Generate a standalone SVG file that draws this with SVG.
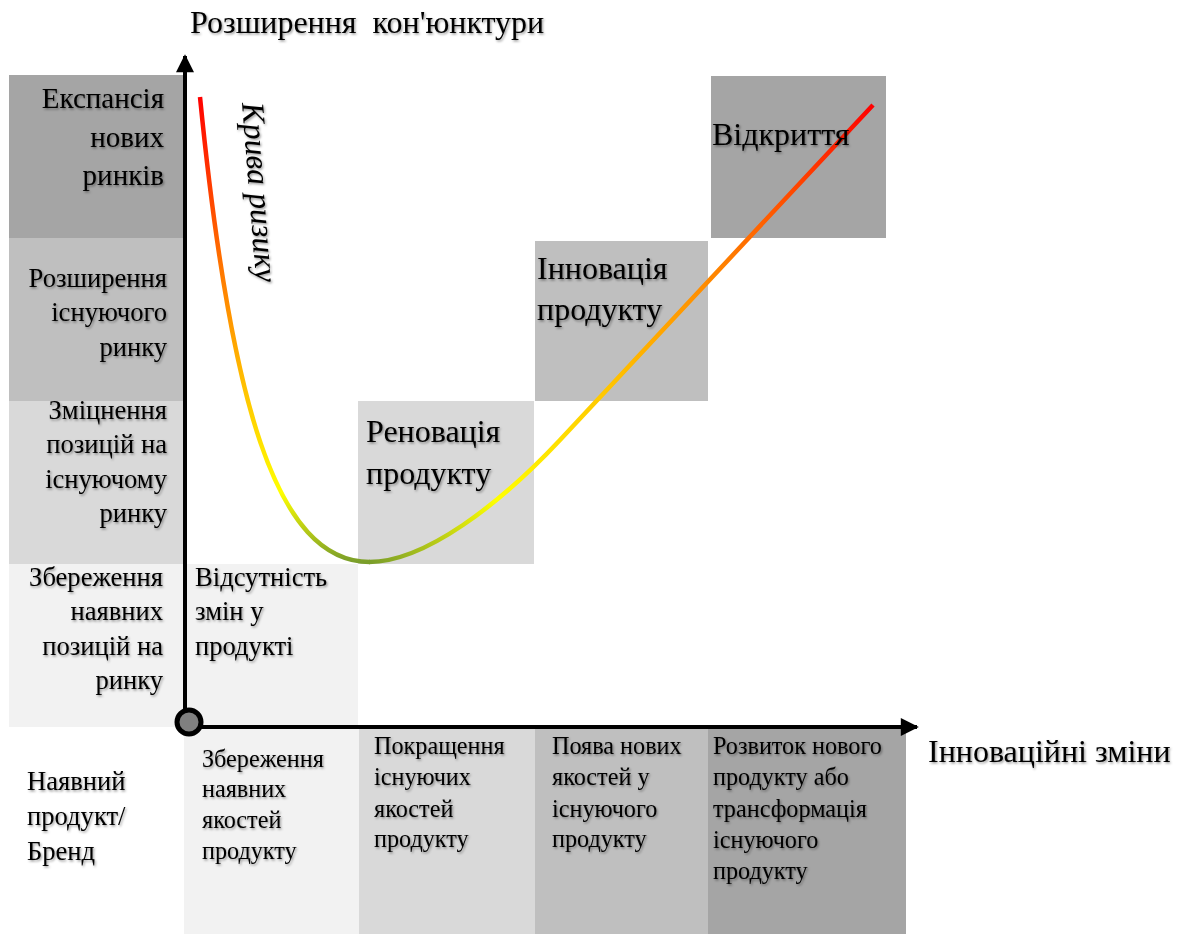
<svg xmlns="http://www.w3.org/2000/svg" width="1181" height="934" viewBox="0 0 1181 934">
<style>
  text { font-family: "Liberation Serif", "Times New Roman", serif; fill: #000; }
  .t29 { font-size: 29px; }
  .t26 { font-size: 26.6px; }
  .t24 { font-size: 24.2px; }
  .t32 { font-size: 32px; }
  .r { text-anchor: end; }
  .axis { stroke: #000; stroke-width: 4; fill: none; }
  .curve { fill: none; stroke-width: 4.5; stroke-linecap: butt; }
  .c1 { fill: #a5a5a5; }
  .c2 { fill: #bfbfbf; }
  .c3 { fill: #d9d9d9; }
  .c4 { fill: #f2f2f2; }
</style>
<defs>
  <filter id="sh" x="-10%" y="-10%" width="130%" height="140%">
    <feDropShadow dx="1.2" dy="1.5" stdDeviation="1.1" flood-color="#000" flood-opacity="0.4"/>
  </filter>
  <linearGradient id="gL" gradientUnits="userSpaceOnUse" x1="0" y1="97" x2="0" y2="562">
    <stop offset="0" stop-color="#ff0000"/>
    <stop offset="0.4" stop-color="#ff8000"/>
    <stop offset="0.62" stop-color="#ffc000"/>
    <stop offset="0.85" stop-color="#ffff00"/>
    <stop offset="1" stop-color="#7a9e2a"/>
  </linearGradient>
  <linearGradient id="gR" gradientUnits="userSpaceOnUse" x1="370" y1="562" x2="873" y2="105">
    <stop offset="0" stop-color="#7a9e2a"/>
    <stop offset="0.2" stop-color="#ffff00"/>
    <stop offset="0.45" stop-color="#ffc000"/>
    <stop offset="0.68" stop-color="#ff8000"/>
    <stop offset="0.85" stop-color="#ff4000"/>
    <stop offset="1" stop-color="#ff0000"/>
  </linearGradient>
  <marker id="ah" viewBox="0 0 10 10" refX="9" refY="5" markerWidth="5" markerHeight="4.5" orient="auto" markerUnits="strokeWidth">
    <path d="M0,0 L10,5 L0,10 z" fill="#000"/>
  </marker>
</defs>

<g id="cells">
  <g id="row-expansion"><rect class="c1" x="9" y="75" width="175" height="163"/></g>
  <g id="row-extension"><rect class="c2" x="9" y="238" width="175" height="163"/></g>
  <g id="row-strengthen"><rect class="c3" x="9" y="401" width="175" height="163"/></g>
  <g id="row-keep"><rect class="c4" x="9" y="564" width="175" height="163"/></g>
  <g id="cell-nochange"><rect class="c4" x="184" y="564" width="174" height="163"/></g>
  <g id="cell-renovation"><rect class="c3" x="358" y="401" width="176" height="163"/></g>
  <g id="cell-innovation"><rect class="c2" x="535" y="241" width="173" height="160"/></g>
  <g id="cell-discovery"><rect class="c1" x="711" y="76" width="175" height="162"/></g>
  <g id="col-keep"><rect class="c4" x="184" y="727" width="175" height="207"/></g>
  <g id="col-improve"><rect class="c3" x="359" y="727" width="176" height="207"/></g>
  <g id="col-newq"><rect class="c2" x="535" y="727" width="173" height="207"/></g>
  <g id="col-newprod"><rect class="c1" x="708" y="727" width="198" height="207"/></g>
</g>

<g id="connectors">
  <line class="axis" x1="185" y1="723" x2="185" y2="56" marker-end="url(#ah)"/>
  <line class="axis" x1="189" y1="727" x2="917" y2="727" marker-end="url(#ah)"/>
  <path class="curve" stroke="url(#gL)" d="M200,97 C230,400 275,562 370,562"/>
  <path class="curve" stroke="url(#gR)" d="M369,562 C425,562 500,504 560,440 L873,105"/>
</g>

<g id="origin"><circle cx="189" cy="722" r="12" fill="#808080" stroke="#000" stroke-width="5"/></g>

<g id="labels" filter="url(#sh)">
  <g id="t-title"><text class="t32" x="190" y="33" xml:space="preserve">Розширення  кон'юнктури</text></g>
  <g id="t-xaxis"><text class="t32" x="928" y="762">Інноваційні зміни</text></g>
  <g id="t-curve"><text class="t32" font-style="italic" transform="translate(242,103) rotate(85.5)">Крива ризику</text></g>

  <g id="t-expansion"><text class="t29 r"><tspan x="164" y="108">Експансія</tspan><tspan x="164" y="147">нових</tspan><tspan x="164" y="185">ринків</tspan></text></g>
  <g id="t-extension"><text class="t26 r"><tspan x="167" y="287">Розширення</tspan><tspan x="167" y="321">існуючого</tspan><tspan x="167" y="356">ринку</tspan></text></g>
  <g id="t-strengthen"><text class="t26 r"><tspan x="167" y="419">Зміцнення</tspan><tspan x="167" y="453">позицій на</tspan><tspan x="167" y="488">існуючому</tspan><tspan x="167" y="522">ринку</tspan></text></g>
  <g id="t-keep"><text class="t26 r"><tspan x="163" y="586">Збереження</tspan><tspan x="163" y="620">наявних</tspan><tspan x="163" y="655">позицій на</tspan><tspan x="163" y="689">ринку</tspan></text></g>
  <g id="t-nochange"><text class="t26"><tspan x="195" y="586">Відсутність</tspan><tspan x="195" y="620">змін у</tspan><tspan x="195" y="655">продукті</tspan></text></g>
  <g id="t-renovation"><text class="t32"><tspan x="366" y="442">Реновація</tspan><tspan x="366" y="484">продукту</tspan></text></g>
  <g id="t-innovation"><text class="t32"><tspan x="537" y="279">Інновація</tspan><tspan x="537" y="320">продукту</tspan></text></g>
  <g id="t-discovery"><text class="t32" x="712" y="145">Відкриття</text></g>

  <g id="t-brand"><text class="t26"><tspan x="27" y="790">Наявний</tspan><tspan x="27" y="825">продукт/</tspan><tspan x="27" y="860">Бренд</tspan></text></g>
  <g id="t-keepq"><text class="t24"><tspan x="202" y="767">Збереження</tspan><tspan x="202" y="797">наявних</tspan><tspan x="202" y="828">якостей</tspan><tspan x="202" y="859">продукту</tspan></text></g>
  <g id="t-improve"><text class="t24"><tspan x="374" y="754">Покращення</tspan><tspan x="374" y="785">існуючих</tspan><tspan x="374" y="817">якостей</tspan><tspan x="374" y="847">продукту</tspan></text></g>
  <g id="t-newq"><text class="t24"><tspan x="552" y="754">Поява нових</tspan><tspan x="552" y="785">якостей у</tspan><tspan x="552" y="817">існуючого</tspan><tspan x="552" y="847">продукту</tspan></text></g>
  <g id="t-newprod"><text class="t24"><tspan x="713" y="754">Розвиток нового</tspan><tspan x="713" y="785">продукту або</tspan><tspan x="713" y="817">трансформація</tspan><tspan x="713" y="848">існуючого</tspan><tspan x="713" y="879">продукту</tspan></text></g>
</g>
</svg>
